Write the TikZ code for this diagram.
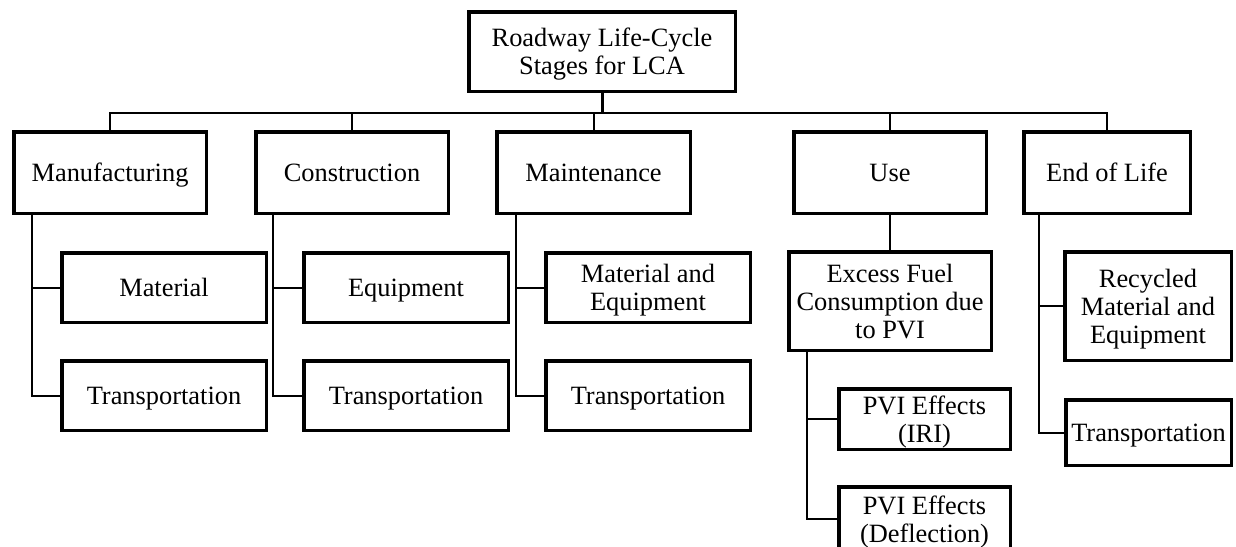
\documentclass[tikz,border=0pt]{standalone}
\usepackage{fontspec}
\setmainfont{Liberation Serif}
\begin{document}
\begin{tikzpicture}[x=1pt,y=-1pt,
  box/.style={draw=black, line width=3.5pt, rectangle, inner sep=0pt, align=center,
    text depth=0pt, font=\fontsize{26.4}{28}\selectfont},
  conn/.style={draw=black, line width=2pt}]
\useasboundingbox (0,0) rectangle (1236,546);
% top
\node[box, minimum width=266.5pt, minimum height=79.5pt] (top) at (602,51.5) {Roadway Life-Cycle\\Stages for LCA};
% level 1
\node[box, minimum width=192.5pt, minimum height=81.5pt] (manu) at (110,172.5) {Manufacturing};
\node[box, minimum width=192.5pt, minimum height=81.5pt] (cons) at (352,172.5) {Construction};
\node[box, minimum width=193.5pt, minimum height=81.5pt] (maint) at (593.5,172.5) {Maintenance};
\node[box, minimum width=192.5pt, minimum height=81.5pt] (use) at (890,172.5) {Use};
\node[box, minimum width=166.5pt, minimum height=81.5pt] (eol) at (1107,172.5) {End of Life};
% level 2
\node[box, minimum width=204.5pt, minimum height=69.5pt] (mat) at (164,287.5) {Material};
\node[box, minimum width=204.5pt, minimum height=69.5pt] (mtr) at (164,395.5) {Transportation};
\node[box, minimum width=204.5pt, minimum height=69.5pt] (equip) at (406,287.5) {Equipment};
\node[box, minimum width=204.5pt, minimum height=69.5pt] (ctr) at (406,395.5) {Transportation};
\node[box, minimum width=204.5pt, minimum height=69.5pt] (me) at (648,287.5) {Material and\\Equipment};
\node[box, minimum width=204.5pt, minimum height=69.5pt] (ntr) at (648,395.5) {Transportation};
\node[box, minimum width=202.5pt, minimum height=98.5pt] (fuel) at (890,301) {Excess Fuel\\Consumption due\\to PVI};
\node[box, minimum width=171.5pt, minimum height=60.5pt] (iri) at (924.5,419) {PVI Effects\\(IRI)};
\node[box, minimum width=171.5pt, minimum height=64.5pt] (defl) at (924.5,519) {PVI Effects\\(Deflection)};
\node[box, minimum width=166.5pt, minimum height=108.5pt] (rec) at (1148,306) {Recycled\\Material and\\Equipment};
\node[box, minimum width=165.5pt, minimum height=65.5pt] (etr) at (1148.5,432.5) {Transportation};
% bus
\coordinate (bus) at (602,113);
\draw[conn, line width=3pt] (top.south) -- (bus);
\draw[conn] (manu.north) |- (bus) -| (eol.north);
\draw[conn] (cons.north) -- (cons.north |- bus);
\draw[conn] (maint.north) -- (maint.north |- bus);
\draw[conn] (use.north) -- (use.north |- bus);
% children
\draw[conn] ([xshift=20pt]manu.south west) |- (mtr.west);
\draw[conn] ([xshift=20pt]manu.south west |- mat.west) -- (mat.west);
\draw[conn] ([xshift=19pt]cons.south west) |- (ctr.west);
\draw[conn] ([xshift=19pt]cons.south west |- equip.west) -- (equip.west);
\draw[conn] ([xshift=21pt]maint.south west) |- (ntr.west);
\draw[conn] ([xshift=21pt]maint.south west |- me.west) -- (me.west);
\draw[conn] (use.south) -- (fuel.north);
\draw[conn] ([xshift=20pt]fuel.south west) |- (defl.west);
\draw[conn] ([xshift=20pt]fuel.south west |- iri.west) -- (iri.west);
\draw[conn] ([xshift=17pt]eol.south west) |- (etr.west);
\draw[conn] ([xshift=17pt]eol.south west |- rec.west) -- (rec.west);
\end{tikzpicture}
\end{document}
